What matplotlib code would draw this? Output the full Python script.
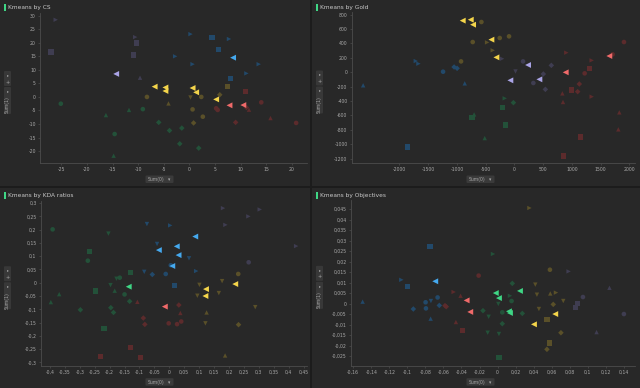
import matplotlib
matplotlib.use("Agg")
import matplotlib.pyplot as plt
from matplotlib.patches import Rectangle, FancyBboxPatch
from matplotlib.ticker import FixedLocator, FuncFormatter
import numpy as np

W, H = 640, 388

# ---------------- data ----------------
# Panel 1: Kmeans by CS
cs_x = [-26.1, -27.0, -10.6, -10.4, -10.9, -9.65,
        0.2, 4.4, 7.7, 5.6, -2.8, 0.6, 13.5, 11.1, 8.0,
        7.4, -8.3, 0.1, 2.3, 5.9, -4.1, 0.6, 2.6, 0.8,
        11.0, 5.2, 5.5, 11.1, 11.6, 14.0, 15.8, 9.0, 20.8,
        -25.1, -16.3, -11.8, -9.1, -6.0, -3.9, -1.5, -14.6, -1.9, 1.8, -14.8]
cs_y = [28.5, 16.6, 22.1, 19.9, 15.5, 7.1,
        23.2, 21.9, 21.4, 17.6, 15.0, 12.1, 12.1, 8.7, 6.9,
        3.8, 0.0, 0.0, 0.0, 0.8, -2.4, -4.6, -7.3, -9.6,
        1.9, -4.2, -4.8, -3.9, -4.7, -2.0, -7.8, -9.4, -9.6,
        -2.5, -6.7, -4.8, -4.5, -9.4, -12.4, -11.5, -13.7, -17.3, -18.9, -21.7]
cs_group = ["slate"] * 6 + ["blue"] * 9 + ["olive"] * 9 + ["red"] * 9 + ["green"] * 11
cs_shape = [">", "s", ">", "s", "s", "^",
            ">", "s", ">", "s", ">", ">", ">", ">", "s",
            "s", "o", "v", "o", "D", "^", "o", "o", "D",
            "s", "o", "o", "D", "^", "o", "^", "D", "o",
            "o", "^", "^", "o", "D", "D", "D", "o", "D", "D", "^"]
cs_cx = [-14.3, 8.5, -6.8, -4.7, -4.7, 0.6, 1.3, 5.2, 7.8, 10.5]
cs_cy = [8.5, 14.5, 3.8, 3.5, 2.2, 3.3, 1.7, -0.9, -3.1, -3.0]
cs_cgroup = ["lavender", "blue", "yellow", "yellow", "yellow", "yellow", "yellow", "yellow", "red", "red"]

# Panel 2: Kmeans by Gold
gold_x = [-574, -725, -475, -255, -93, -377, -928,
          -1716, -1670, -1241, -1049, -997, -864, -2632, -1861,
          -214, 151, 6, 643, 504, 330, 539,
          904, 1710, 1907, 1345, 1304, 1223, 1130, 997, 1101, 1345, 846, 835, 1826, 1809, 1154, 858,
          -168, -17, -203, -701, -736, -151, -516]
gold_y = [698, 420, 415, 476, 499, 305, 151,
          156, 119, 8, 73, 55, -154, -181, -1038,
          188, 151, 22, 96, -24, -149, -237,
          272, 249, 420, 165, 54, -15, -163, -246, -269, -339, -413, -293, -557, -793, -900, -1163,
          -362, -422, -492, -585, -632, -732, -914]
gold_group = ["olive"] * 7 + ["blue"] * 8 + ["slate"] * 7 + ["red"] * 16 + ["green"] * 7
gold_shape = ["o", "o", ">", "o", "o", ">", "o",
              ">", ">", "o", "D", "D", "^", "^", "s",
              ">", "o", "v", "D", "D", "o", "D",
              ">", "o", "o", ">", "s", "o", "D", "s", "D", ">", "^", "^", "^", "^", "s", "s",
              ">", "D", "s", "^", "s", "s", "^"]
gold_cx = [-899, -759, -719, -400, -313, 238, -70, 435, 1652, 893]
gold_cy = [717, 730, 661, 453, 207, 101, -112, -98, 226, -1]
gold_cgroup = ["yellow"] * 5 + ["lavender"] * 3 + ["red"] * 2

# Panel 3: Kmeans by KDA ratios
kda_x = [0.180, 0.303, 0.265, 0.188, 0.425, 0.266,
         -0.075, 0.003, -0.041, 0.066, -0.084, -0.057, -0.012, 0.090, 0.017, 0.005,
         -0.391, -0.204, -0.268, -0.273, -0.131, -0.166, -0.177, -0.197, -0.183, -0.248, -0.150,
         -0.369, -0.397, -0.133, -0.298, -0.196, -0.187, -0.219,
         -0.107, 0.032, 0.037, -0.087, -0.082, -0.002, 0.026, 0.040, -0.131, -0.231, -0.096,
         0.231, 0.177, 0.101, 0.094, 0.166, 0.288, 0.125, 0.121, 0.232, 0.187]
kda_y = [0.281, 0.276, 0.250, 0.218, 0.138, 0.077,
         0.221, 0.216, 0.146, 0.092, 0.041, 0.031, 0.033, 0.044, -0.009, 0.066,
         0.201, 0.185, 0.117, 0.083, 0.038, 0.019, 0.015, -0.009, -0.030, -0.031, -0.044,
         -0.043, -0.073, -0.070, -0.102, -0.094, -0.112, -0.172,
         -0.072, -0.084, -0.114, -0.133, -0.157, -0.153, -0.156, -0.146, -0.245, -0.277, -0.281,
         0.033, 0.006, -0.008, -0.049, -0.039, -0.092, -0.112, -0.153, -0.158, -0.274]
kda_group = ["slate"] * 6 + ["blue"] * 10 + ["green"] * 18 + ["red"] * 11 + ["olive"] * 10
kda_shape = [">", ">", ">", ">", ">", "o",
             "v", ">", "v", "v", "v", "D", "o", ">", "s", "o",
             "o", "v", "s", "o", "s", "o", "v", "v", "^", "s", "o",
             "^", "^", "D", "D", "D", "D", "s",
             "^", "D", "^", "D", "D", "o", "o", "o", "s", "s", "s",
             "o", "v", "v", "v", "v", "v", "^", "v", "D", "^"]
kda_cx = [0.087, 0.025, -0.035, 0.031, 0.010, -0.136, -0.015, 0.221, 0.123, 0.121]
kda_cy = [0.174, 0.137, 0.123, 0.104, 0.063, -0.015, -0.090, -0.005, -0.024, -0.050]
kda_cgroup = ["blue"] * 5 + ["green", "red"] + ["yellow"] * 3

# Panel 4: Kmeans by Objectives
obj_x = [0.0353, 0.0580, 0.0418, 0.0436, 0.0584, 0.0647, 0.0728, 0.0617, 0.0458, 0.0547, 0.0702, 0.0577, 0.0547,
         -0.0750, -0.1067, -0.0997, -0.0665, -0.0739, -0.0798, -0.0646, -0.0794, -0.0934, -0.0742, -0.1496,
         -0.0051, 0.0163, 0.0137, 0.0155, 0.0008, 0.0052, -0.0162, -0.0099, 0.0274, 0.0052, -0.0110, 0.0015, 0.0015,
         -0.0210, -0.0487, -0.0410, -0.0583, -0.0569, -0.0462, -0.0388,
         0.0787, 0.0890, 0.0860, 0.0946, 0.1240, 0.1400, 0.1097]
obj_y = [0.0455, 0.0161, 0.0090, 0.0042, 0.0048, 0.0052, 0.0012, -0.0004, -0.0026, -0.0077, -0.0139, -0.0188, -0.0218,
         0.0272, 0.0113, 0.0083, 0.0029, 0.0012, 0.0006, -0.0009, -0.0023, -0.0026, -0.0072, 0.0009,
         0.0236, 0.0096, 0.0037, 0.0012, -0.0002, -0.0042, -0.0034, -0.0063, -0.0047, -0.0096, -0.0139, -0.0145, -0.0256,
         0.0133, 0.0055, 0.0037, -0.0010, -0.0015, -0.0088, -0.0128,
         0.0153, 0.0001, -0.0020, 0.0031, 0.0075, -0.0050, -0.0136]
obj_group = ["olive"] * 13 + ["blue"] * 11 + ["green"] * 13 + ["red"] * 7 + ["slate"] * 7
obj_shape = [">", "o", "v", "v", "^", ">", "v", "D", "v", "s", "D", "s", "D",
             "s", ">", "s", "o", "v", "o", "D", "o", "D", "^", "^",
             ">", "D", ">", "o", "v", "o", "D", "v", "D", "D", "v", "v", "s",
             "o", ">", "^", "D", "D", "^", "s",
             ">", "s", "s", "o", "^", "o", "^"]
obj_cx = [-0.0691, 0.0248, -0.0020, 0.0015, 0.0126, 0.0137, -0.0343, -0.0303, 0.0639, 0.0403]
obj_cy = [0.0106, 0.0060, 0.0050, 0.0026, -0.0037, -0.0045, 0.0015, -0.0040, -0.0050, -0.0099]
obj_cgroup = ["blue"] + ["green"] * 5 + ["red"] * 2 + ["yellow"] * 2

titles = ["Kmeans by CS", "Kmeans by Gold", "Kmeans by KDA ratios", "Kmeans by Objectives"]
x_label = "Sum(0)"
y_label = "Sum(1)"

cs_xticks = [-25, -20, -15, -10, -5, 0, 5, 10, 15, 20]
cs_yticks = [-20, -15, -10, -5, 0, 5, 10, 15, 20, 25, 30]
gold_xticks = [-2000, -1500, -1000, -500, 0, 500, 1000, 1500, 2000]
gold_yticks = [-1200, -1000, -800, -600, -400, -200, 0, 200, 400, 600, 800]
kda_xticks = [-0.4, -0.35, -0.3, -0.25, -0.2, -0.15, -0.1, -0.05, 0, 0.05, 0.1, 0.15, 0.2, 0.25, 0.3, 0.35, 0.4, 0.45]
kda_yticks = [-0.3, -0.25, -0.2, -0.15, -0.1, -0.05, 0, 0.05, 0.1, 0.15, 0.2, 0.25, 0.3]
obj_xticks = [-0.16, -0.14, -0.12, -0.1, -0.08, -0.06, -0.04, -0.02, 0, 0.02, 0.04, 0.06, 0.08, 0.1, 0.12, 0.14]
obj_yticks = [-0.025, -0.02, -0.015, -0.01, -0.005, 0, 0.005, 0.01, 0.015, 0.02, 0.025, 0.03, 0.035, 0.04, 0.045]

# ---------------- style ----------------
FIG_BG = "#1c1c1c"
PANEL_BG = "#282828"
TEXT = "#a8a8a8"
SPINE = "#4c4c4c"
faint = {"olive": "#5a5029", "red": "#5c2b2c", "blue": "#22496a",
         "green": "#235139", "slate": "#3f3d51"}
bright = {"yellow": "#f4d54b", "red": "#f06a6a", "blue": "#45a9ef",
          "green": "#3fd685", "lavender": "#aaa4e6"}

fig = plt.figure(figsize=(W / 100, H / 100), dpi=100, facecolor=FIG_BG)


def frect(x0, y0, x1, y1):
    """pixel rect (top-left origin) -> figure fraction [l, b, w, h]"""
    return [x0 / W, 1 - y1 / H, (x1 - x0) / W, (y1 - y0) / H]


def fpt(x, y):
    return x / W, 1 - y / H


def fmt(v, pos=None):
    if abs(v) < 1e-12:
        return "0"
    s = ("%.4f" % v).rstrip("0").rstrip(".")
    return s.replace(".", ",")


panels = [
    dict(px=(0, 0, 310, 186), ax=(40, 13, 307, 163), xlim=(-29.16, 22.92), ylim=(-24.4, 31.0),
         x=cs_x, y=cs_y, g=cs_group, m=cs_shape, cx=cs_cx, cy=cs_cy, cg=cs_cgroup,
         xt=cs_xticks, yt=cs_yticks, title=titles[0]),
    dict(px=(312, 0, 640, 186), ax=(351.7, 12, 635, 163), xlim=(-2831, 2099), ylim=(-1260, 837),
         x=gold_x, y=gold_y, g=gold_group, m=gold_shape, cx=gold_cx, cy=gold_cy, cg=gold_cgroup,
         xt=gold_xticks, yt=gold_yticks, title=titles[1]),
    dict(px=(0, 188, 310, 388), ax=(40.7, 200.7, 307, 365.7), xlim=(-0.431, 0.4615), ylim=(-0.3126, 0.309),
         x=kda_x, y=kda_y, g=kda_group, m=kda_shape, cx=kda_cx, cy=kda_cy, cg=kda_cgroup,
         xt=kda_xticks, yt=kda_yticks, title=titles[2]),
    dict(px=(312, 188, 640, 388), ax=(350.7, 200, 635, 365.7), xlim=(-0.1628, 0.1523), ylim=(-0.0296, 0.0493),
         x=obj_x, y=obj_y, g=obj_group, m=obj_shape, cx=obj_cx, cy=obj_cy, cg=obj_cgroup,
         xt=obj_xticks, yt=obj_yticks, title=titles[3]),
]

size_map = {"s": 14, "o": 11, "D": 8, "^": 10, "v": 10, ">": 10}

for p in panels:
    x0, y0, x1, y1 = p["px"]
    fig.patches.append(Rectangle(fpt(x0, y1), (x1 - x0) / W, (y1 - y0) / H,
                                 transform=fig.transFigure, facecolor=PANEL_BG,
                                 edgecolor="none", zorder=-10))
    # title
    fig.patches.append(Rectangle(fpt(x0 + 4, y0 + 11), 2 / W, 7 / H, transform=fig.transFigure,
                                 facecolor="#3fd685", edgecolor="none", zorder=-5))
    fig.text(*fpt(x0 + 8, y0 + 7.5), p["title"], fontsize=4.2, color="#c8c8c8",
             ha="left", va="center")

    ax = fig.add_axes(frect(*p["ax"]))
    ax.set_zorder(1)
    ax.set_facecolor("none")
    ax.set_xlim(*p["xlim"])
    ax.set_ylim(*p["ylim"])
    for side in ("top", "right"):
        ax.spines[side].set_visible(False)
    for side in ("left", "bottom"):
        ax.spines[side].set_color(SPINE)
        ax.spines[side].set_linewidth(0.6)
    ax.xaxis.set_major_locator(FixedLocator(p["xt"]))
    ax.yaxis.set_major_locator(FixedLocator(p["yt"]))
    ax.xaxis.set_major_formatter(FuncFormatter(fmt))
    ax.yaxis.set_major_formatter(FuncFormatter(fmt))
    ax.tick_params(axis="both", colors=SPINE, labelcolor=TEXT, labelsize=3.3,
                   length=1.5, width=0.5, pad=1.5)

    xs = np.array(p["x"], dtype=float)
    ys = np.array(p["y"], dtype=float)
    gs = np.array(p["g"])
    ms = np.array(p["m"])
    for mk in np.unique(ms):
        sel = ms == mk
        ax.scatter(xs[sel], ys[sel], marker=mk, s=size_map[mk],
                   c=[faint[g] for g in gs[sel]], linewidths=0, zorder=2)
    ax.scatter(p["cx"], p["cy"], marker="<", s=18,
               c=[bright[g] for g in p["cg"]], linewidths=0, zorder=3)

    # x-axis dropdown button
    cxp = (x0 + x1) / 2 + 4.5
    bx0, bx1 = cxp - 14, cxp + 14
    by0 = p["ax"][3] + 12.5
    fig.patches.append(FancyBboxPatch(fpt(bx0, by0 + 7.5), (bx1 - bx0) / W, 7.5 / H,
                                      boxstyle="round,pad=0,rounding_size=0.002",
                                      transform=fig.transFigure, facecolor="#3a3a3a",
                                      edgecolor="none", zorder=-5))
    fig.text(*fpt(bx0 + 2.5, by0 + 3.9), x_label, fontsize=3.3, color=TEXT, ha="left", va="center")
    fig.text(*fpt(bx1 - 4, by0 + 3.9), "▾", fontsize=3.3, color=TEXT, ha="center", va="center")

    # y-axis buttons
    axc = (p["ax"][1] + p["ax"][3]) / 2 + 4
    yb_top = axc - 21
    fig.patches.append(FancyBboxPatch(fpt(x0 + 4, yb_top + 15), 7 / W, 15 / H,
                                      boxstyle="round,pad=0,rounding_size=0.002",
                                      transform=fig.transFigure, facecolor="#383838",
                                      edgecolor="none", zorder=-5))
    fig.text(*fpt(x0 + 7.5, yb_top + 4), "▸", fontsize=2.8, color=TEXT, ha="center", va="center")
    fig.text(*fpt(x0 + 7.5, yb_top + 11), "+", fontsize=3.6, color=TEXT, ha="center", va="center")
    fig.patches.append(FancyBboxPatch(fpt(x0 + 4, yb_top + 43), 7 / W, 27 / H,
                                      boxstyle="round,pad=0,rounding_size=0.002",
                                      transform=fig.transFigure, facecolor="#383838",
                                      edgecolor="none", zorder=-5))
    fig.text(*fpt(x0 + 7.5, yb_top + 20), "▸", fontsize=2.8, color=TEXT, ha="center", va="center")
    fig.text(*fpt(x0 + 7.5, yb_top + 34), y_label, fontsize=3.3, color=TEXT, ha="center",
             va="center", rotation=90)

fig.savefig("out.png", dpi=100, facecolor=FIG_BG)
